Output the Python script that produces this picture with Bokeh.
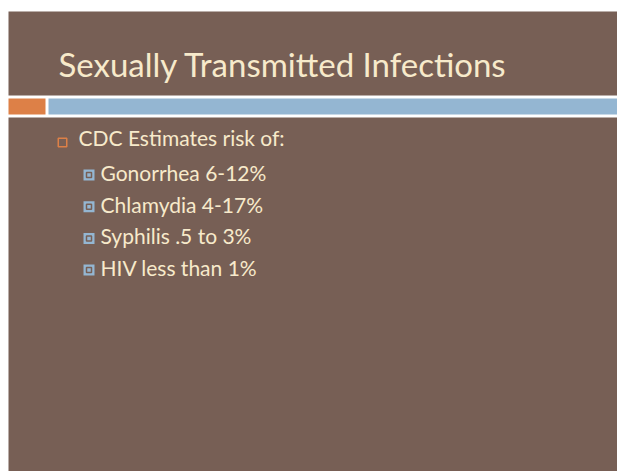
from bokeh.plotting import figure
from bokeh.models import Range1d
from bokeh.core.properties import value
from bokeh.embed import file_html
from bokeh.resources import INLINE

# ---- content ----
title_text = "Sexually Transmitted Infections"
main_bullet = "CDC Estimates risk of:"
sub_bullets = ["Gonorrhea 6-12%", "Chlamydia 4-17%", "Syphilis .5 to 3%", "HIV less than 1%"]

# ---- theme colours ----
BROWN = "#775F55"
BLUE = "#94B6D2"
ORANGE = "#DD8047"
CREAM = "#F7EACB"
FONT = "Lato"

W, H = 617, 471
p = figure(width=W, height=H, output_backend="svg", toolbar_location=None,
           x_range=Range1d(0, W), y_range=Range1d(H, 0), min_border=0)
p.axis.visible = False
p.grid.visible = False
p.outline_line_color = None
p.background_fill_color = "white"
p.border_fill_color = "white"

# slide bands
p.quad(left=[8], right=[W + 5], top=[11], bottom=[95], fill_color=BROWN, line_color=None)
p.quad(left=[8], right=[45], top=[98], bottom=[114], fill_color=ORANGE, line_color=None)
p.quad(left=[48], right=[W + 5], top=[98], bottom=[114], fill_color=BLUE, line_color=None)
p.quad(left=[8], right=[W + 5], top=[117], bottom=[H + 5], fill_color=BROWN, line_color=None)

# title
p.text(x=[58], y=[63], text=[title_text], text_color=CREAM, text_font=value(FONT),
       text_font_size="33px", text_baseline="alphabetic", text_align="left")

# main bullet
p.quad(left=[57.75], right=[66.25], top=[137.75], bottom=[146.25], fill_color=None,
       line_color=ORANGE, line_width=1.5)
p.text(x=[78], y=[137], text=[main_bullet], text_color=CREAM, text_font=value(FONT),
       text_font_size="21px", text_baseline="alphabetic", text_align="left")

# sub bullets
step = 31.7
rows = [169 + i * step for i in range(len(sub_bullets))]
n = len(rows)
p.quad(left=[83] * n, right=[94] * n, top=rows, bottom=[y + 11 for y in rows],
       fill_color=BLUE, line_color=None)
p.quad(left=[86] * n, right=[91] * n, top=[y + 3 for y in rows], bottom=[y + 8 for y in rows],
       fill_color=None, line_color=BROWN, line_width=1.5)
p.text(x=[100] * n, y=[y + 3 for y in rows], text=sub_bullets, text_color=CREAM,
       text_font=value(FONT), text_font_size="21px", text_baseline="alphabetic",
       text_align="left")

open("out.html", "w").write(file_html(p, INLINE))
